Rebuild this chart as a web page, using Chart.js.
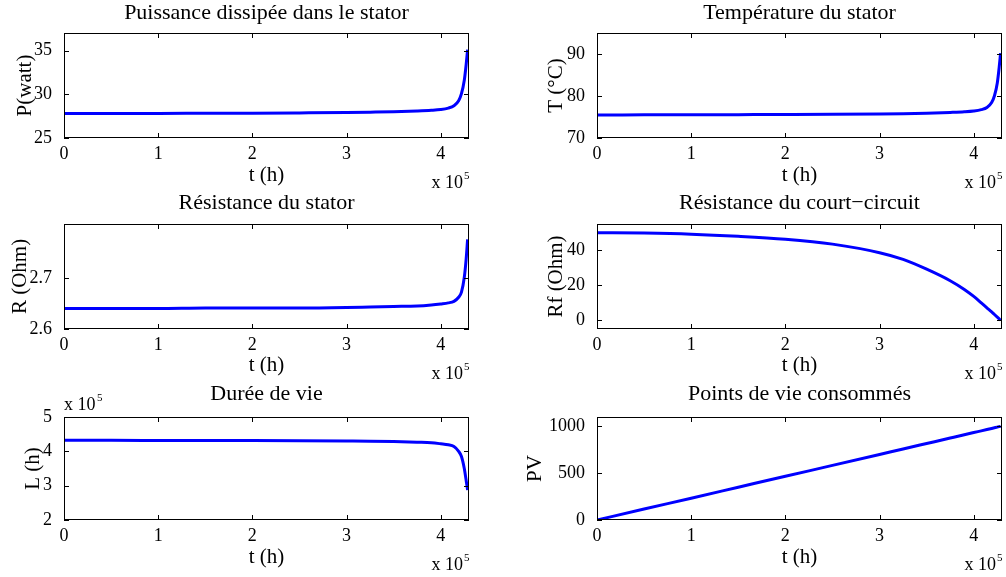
<!DOCTYPE html>
<html>
<head>
<meta charset="utf-8">
<script src="https://cdn.jsdelivr.net/npm/chart.js@4.4.1/dist/chart.umd.min.js"></script>
<style>
body { margin: 0; background: #fff; }
#wrap { position: relative; width: 1006px; height: 577px; overflow: hidden; background: #fff; }
canvas { position: absolute; }
</style>
</head>
<body>
<div id="wrap">
  <canvas id="cP"></canvas>
  <canvas id="cT"></canvas>
  <canvas id="cR"></canvas>
  <canvas id="cRf"></canvas>
  <canvas id="cL"></canvas>
  <canvas id="cPV"></canvas>
</div>
<script>
// temps (h), commun a toutes les courbes
const tHours = [0, 0.5e5, 1e5, 1.5e5, 2e5, 2.5e5, 3e5, 3.25e5, 3.5e5, 3.75e5, 3.9e5, 4.0e5, 4.08e5, 4.14e5, 4.19e5, 4.22e5, 4.25e5, 4.27e5, 4.285e5];

const puissance = [27.80, 27.81, 27.81, 27.83, 27.84, 27.87, 27.91, 27.95, 28.00, 28.09, 28.17, 28.26, 28.42, 28.68, 29.26, 30.06, 31.6, 33.4, 35.1];
const temperature = [75.5, 75.51, 75.53, 75.56, 75.59, 75.63, 75.72, 75.79, 75.91, 76.09, 76.24, 76.43, 76.75, 77.26, 78.44, 80.06, 83.1, 86.8, 90.2];
const resistance = [2.640, 2.640, 2.640, 2.641, 2.641, 2.641, 2.642, 2.643, 2.644, 2.645, 2.647, 2.649, 2.651, 2.654, 2.662, 2.672, 2.701, 2.737, 2.775];
const resistanceCC = [50, 49.8, 49.2, 48.0, 46.3, 43.5, 38.6, 34.8, 29.2, 22.6, 17.6, 13.6, 9.9, 7.1, 4.8, 3.3, 1.8, 0.8, 0];
const dureeVie = [4.32e5, 4.32e5, 4.318e5, 4.316e5, 4.313e5, 4.308e5, 4.30e5, 4.295e5, 4.285e5, 4.265e5, 4.25e5, 4.22e5, 4.19e5, 4.14e5, 4.0e5, 3.85e5, 3.5e5, 3.15e5, 2.87e5];
const pointsVie = [0, 117, 233, 350, 467, 583, 700, 759, 817, 875, 910, 934, 952, 966, 978, 985, 992, 997, 1000];

const xTicks = [0, 1e5, 2e5, 3e5, 4e5];
const pTicks = [25, 30, 35];
const tTicks = [70, 80, 90];
const rTicks = [2.6, 2.7];
const rfTicks = [0, 20, 40];
const lTicks = [2e5, 3e5, 4e5, 5e5];
const pvTicks = [0, 500, 1000];

const serif = "'Liberation Serif', 'Times New Roman', serif";

// cadre + graduations interieures facon matlab
const matlabBox = {
  id: 'matlabBox',
  afterDatasetsDraw(chart, args, opts) {
    const { ctx, chartArea: a, scales } = chart;
    ctx.save();
    ctx.strokeStyle = '#000';
    ctx.lineWidth = 1;
    ctx.strokeRect(a.left + 0.5, a.top + 0.5, a.right - a.left - 1, a.bottom - a.top - 1);
    ctx.beginPath();
    scales.x.ticks.forEach(t => {
      const px = Math.round(scales.x.getPixelForValue(t.value)) + 0.5;
      ctx.moveTo(px, a.top); ctx.lineTo(px, a.top + 5);
      ctx.moveTo(px, a.bottom); ctx.lineTo(px, a.bottom - 5);
    });
    scales.y.ticks.forEach(t => {
      const py = Math.round(scales.y.getPixelForValue(t.value)) + 0.5;
      ctx.moveTo(a.left, py); ctx.lineTo(a.left + 5, py);
      ctx.moveTo(a.right, py); ctx.lineTo(a.right - 5, py);
    });
    ctx.stroke();

    ctx.fillStyle = '#000';
    ctx.textBaseline = 'alphabetic';
    ctx.font = '18px ' + serif;
    ctx.textAlign = 'right';
    ctx.fillText('x 10', a.right - 6, a.bottom + 50);
    ctx.font = '11px ' + serif;
    ctx.textAlign = 'left';
    ctx.fillText('5', a.right - 5, a.bottom + 41);
    if (opts.yExp) {
      ctx.font = '18px ' + serif;
      ctx.fillText('x 10', a.left, a.top - 7);
      ctx.font = '11px ' + serif;
      ctx.fillText('5', a.left + 33, a.top - 16);
    }
    ctx.restore();
  }
};

function makeChart(cfg) {
  const cv = document.getElementById(cfg.id);
  cv.width = cfg.w;
  cv.height = cfg.h;
  cv.style.left = cfg.left + 'px';
  cv.style.top = cfg.top + 'px';
  const points = tHours.map((t, i) => ({ x: t, y: cfg.values[i] }));

  new Chart(cv, {
    type: 'line',
    data: {
      datasets: [{
        data: points,
        borderColor: '#0000ff',
        borderWidth: 3,
        pointRadius: 0,
        cubicInterpolationMode: 'monotone',
        fill: false
      }]
    },
    options: {
      responsive: false,
      animation: false,
      devicePixelRatio: 1,
      layout: { padding: { left: 0, right: cfg.padRight, top: 0, bottom: 0 } },
      plugins: {
        legend: { display: false },
        tooltip: { enabled: false },
        title: {
          display: true,
          text: cfg.title,
          color: '#000',
          fullSize: false,
          font: { family: serif, size: 22, weight: 'normal', lineHeight: 1.2 },
          padding: { top: 0, bottom: cfg.titleBottom }
        },
        matlabBox: { yExp: cfg.yExp }
      },
      scales: {
        x: {
          type: 'linear',
          min: 0,
          max: 4.3e5,
          grid: { display: false },
          border: { display: false },
          ticks: {
            color: '#000',
            font: { family: serif, size: 18 },
            padding: -3,
            maxRotation: 0,
            callback: v => String(v / 1e5)
          },
          afterBuildTicks: s => { s.ticks = xTicks.map(v => ({ value: v })); },
          afterFit: s => { s.height = cfg.xAxisH; },
          title: {
            display: true,
            text: 't (h)',
            color: '#000',
            font: { family: serif, size: 21, lineHeight: 1.2 },
            padding: { top: 0, bottom: cfg.xTitlePad }
          }
        },
        y: {
          type: 'linear',
          min: cfg.yMin,
          max: cfg.yMax,
          grid: { display: false },
          border: { display: false },
          ticks: {
            color: '#000',
            font: { family: serif, size: 18 },
            padding: 4,
            callback: cfg.fmt
          },
          afterBuildTicks: s => { s.ticks = cfg.yTicks.map(v => ({ value: v })); },
          afterFit: s => { s.width = cfg.yAxisW; },
          title: {
            display: true,
            text: cfg.ylabel,
            color: '#000',
            font: { family: serif, size: 21, lineHeight: 1.2 },
            padding: { top: cfg.yTitlePad, bottom: 0 }
          }
        }
      }
    },
    plugins: [matlabBox]
  });
}

const leftCol = { left: 0, w: 503, yAxisW: 64, padRight: 34 };
const rightCol = { left: 503, w: 503, yAxisW: 94, padRight: 4 };
const row1 = { top: 0, h: 190, titleBottom: 6.6, xAxisH: 52, xTitlePad: 2.4 };
const row2 = { top: 190, h: 191, titleBottom: 7.6, xAxisH: 52, xTitlePad: 3.4 };
const row3 = { top: 381, h: 196, titleBottom: 9.6, xAxisH: 57, xTitlePad: 7.4 };

makeChart({ id: 'cP', ...leftCol, ...row1, title: 'Puissance dissipée dans le stator', ylabel: 'P(watt)',
  values: puissance, yMin: 25, yMax: 37, yTicks: pTicks, fmt: v => String(v), yTitlePad: 12.4 });
makeChart({ id: 'cT', ...rightCol, ...row1, title: 'Température du stator', ylabel: 'T (°C)',
  values: temperature, yMin: 70, yMax: 95, yTicks: tTicks, fmt: v => String(v), yTitlePad: 40.4 });
makeChart({ id: 'cR', ...leftCol, ...row2, title: 'Résistance du stator', ylabel: 'R (Ohm)',
  values: resistance, yMin: 2.6, yMax: 2.805, yTicks: rTicks, fmt: v => v.toFixed(1), yTitlePad: 7.4 });
makeChart({ id: 'cRf', ...rightCol, ...row2, title: 'Résistance du court\u2212circuit', ylabel: 'Rf (Ohm)',
  values: resistanceCC, yMin: -5, yMax: 55, yTicks: rfTicks, fmt: v => String(v), yTitlePad: 40.4 });
makeChart({ id: 'cL', ...leftCol, ...row3, title: 'Durée de vie', ylabel: 'L (h)',
  values: dureeVie, yMin: 2e5, yMax: 5e5, yTicks: lTicks, fmt: v => String(v / 1e5), yTitlePad: 20.4, yExp: true });
makeChart({ id: 'cPV', ...rightCol, ...row3, title: 'Points de vie consommés', ylabel: 'PV',
  values: pointsVie, yMin: 0, yMax: 1100, yTicks: pvTicks, fmt: v => String(v), yTitlePad: 19.4 });
</script>
</body>
</html>
